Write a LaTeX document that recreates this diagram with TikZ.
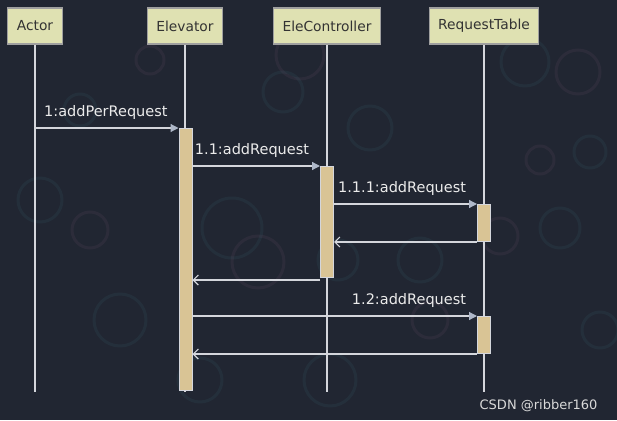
\documentclass[tikz,border=0pt]{standalone}
\usepackage{fontspec}
\setmainfont{DejaVu Sans}
\usetikzlibrary{arrows.meta,positioning}
\definecolor{bgnavy}{HTML}{212632}
\definecolor{headfill}{HTML}{DFE1B2}
\definecolor{actfill}{HTML}{D9C495}
\definecolor{linegray}{HTML}{D4D6DC}
\definecolor{tipgray}{HTML}{AEB7C8}
\definecolor{bubteal}{HTML}{4F9DA8}
\definecolor{bubpink}{HTML}{B07A98}

\begin{document}
\begin{tikzpicture}[
			x=1pt, y=-1pt,
			head/.style={draw=gray!75, line width=1.2pt, fill=headfill, text=black!80,
				minimum height=36pt, inner xsep=9pt, font=\fontsize{13.8}{16}\selectfont},
			life/.style={draw=linegray, line width=1.3pt},
			act/.style={draw=linegray, line width=1pt, fill=actfill, minimum width=13pt,
				inner sep=0pt, anchor=north},
			call/.style={draw=linegray, line width=1.2pt, -{Triangle[length=8pt,width=8pt,color=tipgray]}},
			ret/.style={draw=linegray, line width=1.2pt, -{Straight Barb[length=5pt,width=10pt]}},
			msg/.style={text=white!92!black, font=\fontsize{14.5}{16}\selectfont,
				anchor=base east, xshift=-7pt, yshift=12pt},
			bubble/.style={line width=3pt, opacity=.08}
			]
			
			% Canvas and background
			\useasboundingbox (0,0) rectangle (617,420);
			\fill[bgnavy] (0,0) rectangle (617,420);
			\foreach \cx/\cy/\r/\c in {300/55/24/bubpink, 283/92/20/bubteal, 370/128/22/bubteal,
				525/62/24/bubteal, 578/72/22/bubpink, 590/152/16/bubteal, 540/160/14/bubpink,
				232/228/30/bubteal, 258/262/26/bubpink, 338/260/20/bubteal, 420/260/22/bubteal,
				500/236/18/bubpink, 560/228/20/bubteal, 40/200/22/bubteal, 90/230/18/bubpink,
				120/320/26/bubteal, 200/380/22/bubteal, 330/380/26/bubteal, 600/330/18/bubteal,
				80/110/16/bubteal, 150/60/14/bubpink, 430/320/18/bubpink}{
				\draw[bubble, \c] (\cx,\cy) circle[radius=\r];
			}
			
			% Lifeline heads
			\node[head] (actor) at (35,26) {Actor};
			\node[head] (elev) at (185,26) {Elevator};
			\node[head] (ctrl) at (327,26) {EleController};
			\node[head] (tab) at (484,26) {RequestTable};
			
			% Lifelines
			\coordinate (bottom) at (0,392);
			\foreach \n in {actor,elev,ctrl,tab}{
				\draw[life] (\n.south) -- (\n.south |- bottom);
			}
			
			% Activation bars
			\node[act, minimum height=262pt] (elevA) at (185.5,128) {};
			\node[act, minimum height=111pt] (ctrlA) at (327,166) {};
			\node[act, minimum height=37pt] (tabA) at (484,204) {};
			\node[act, minimum height=37pt] (tabB) at (484,316) {};
			
			% Messages
			\draw[call] (actor.south |- elevA.north) -- (elevA.north west)
			node[msg] {1:addPerRequest};
			\draw[call] (elevA.east |- ctrlA.north) -- (ctrlA.north west)
			node[msg] {1.1:addRequest};
			\draw[call] (ctrlA.east |- tabA.north) -- (tabA.north west)
			node[msg] {1.1.1:addRequest};
			\draw[ret] (tabA.south west) -- (ctrlA.east |- tabA.south);
			\draw[ret] ([yshift=-2pt]ctrlA.south west) -- ([yshift=-2pt]elevA.east |- ctrlA.south);
			\draw[call] (elevA.east |- tabB.north) -- (tabB.north west)
			node[msg] {1.2:addRequest};
			\draw[ret] (tabB.south west) -- (elevA.east |- tabB.south);
			
			% Watermark
			\node[anchor=base east, text=white!85!black, font=\fontsize{13}{15}\selectfont]
			(wm) at (601,409) {CSDN @ribber160};
		\end{tikzpicture}
\end{document}
